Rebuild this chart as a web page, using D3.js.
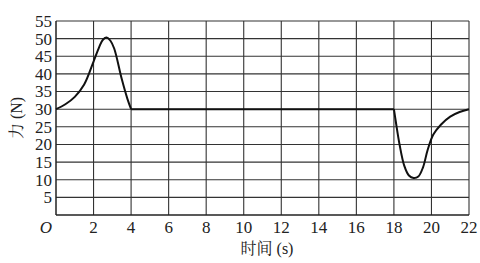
<!DOCTYPE html>
<html><head><meta charset="utf-8">
<script src="https://cdn.jsdelivr.net/npm/d3@7"></script>
<style>
body{margin:0;background:#fff;}
</style></head>
<body>
<svg id="c" width="480" height="263"></svg>
<script>
const xTicks = [2,4,6,8,10,12,14,16,18,20,22];
const yTicks = [5,10,15,20,25,30,35,40,45,50,55];
const seg1T = [0,0.5,1,1.5,2,2.3,2.5,2.7,2.9,3.1,3.5,3.8,4];
const seg1F = [30,31.4,33.5,37,43.5,47.6,49.7,50.3,49.4,47.2,38.6,33,30];
const flatT = [4,18];
const flatF = [30,30];
const seg2T = [18,18.1,18.3,18.55,18.8,19.05,19.3,19.55,19.8,20.1,20.5,21,21.5,22];
const seg2F = [30,26.5,20,14,11.2,10.5,10.9,13.5,18.5,22.8,25.6,27.9,29.2,30];
const xTitle = "时间 (s)";
const yTitle = "力 (N)";
const FONT = '"Liberation Serif","DejaVu Serif","Times New Roman","Noto Serif CJK SC","Noto Sans CJK SC",serif';

const svg = d3.select("#c");
const x = d3.scaleLinear().domain([0,22]).range([56,469]);
const y = d3.scaleLinear().domain([0,55]).range([215,21]);

svg.append("g").selectAll("line").data(xTicks).join("line")
  .attr("x1",d=>x(d)).attr("x2",d=>x(d)).attr("y1",y(0)).attr("y2",y(55))
  .attr("stroke","#333").attr("stroke-width",1.1);
svg.append("g").selectAll("line").data(yTicks).join("line")
  .attr("x1",x(0)).attr("x2",x(22)).attr("y1",d=>y(d)).attr("y2",d=>y(d))
  .attr("stroke","#333").attr("stroke-width",1.1);
svg.append("line").attr("x1",x(0)).attr("x2",x(0)).attr("y1",y(0)).attr("y2",y(55)).attr("stroke","#222").attr("stroke-width",1.5);
svg.append("line").attr("x1",x(0)).attr("x2",x(22)).attr("y1",y(0)).attr("y2",y(0)).attr("stroke","#222").attr("stroke-width",1.5);

svg.append("g").selectAll("text").data(yTicks).join("text")
  .attr("x",x(0)-4).attr("y",d=>y(d)).attr("dy","0.35em").attr("text-anchor","end")
  .attr("font-family",FONT).attr("fill","#222").attr("font-size",17).text(d=>d);
svg.append("g").selectAll("text").data(xTicks).join("text")
  .attr("x",d=>x(d)).attr("y",233).attr("text-anchor","middle")
  .attr("font-family",FONT).attr("fill","#222").attr("font-size",17).text(d=>d);
svg.append("text").attr("x",x(0)-10).attr("y",233).attr("text-anchor","middle")
  .attr("font-family",FONT).attr("fill","#222").attr("font-size",17).attr("font-style","italic").text("O");

svg.append("text").attr("x",267).attr("y",254).attr("text-anchor","middle")
  .attr("font-family",FONT).attr("fill","#222").attr("font-size",16).text(xTitle);
svg.append("text").attr("transform","translate(22,118) rotate(-90)").attr("text-anchor","middle")
  .attr("font-family",FONT).attr("fill","#222").attr("font-size",16).text(yTitle);

const line = d3.line().x(d=>x(d[0])).y(d=>y(d[1])).curve(d3.curveCatmullRom.alpha(0.5));
const flat = d3.line().x(d=>x(d[0])).y(d=>y(d[1]));
svg.append("path").datum(seg1T.map((t,i)=>[t,seg1F[i]])).attr("d",line)
  .attr("fill","none").attr("stroke","#111").attr("stroke-width",2);
svg.append("path").datum(flatT.map((t,i)=>[t,flatF[i]])).attr("d",flat)
  .attr("fill","none").attr("stroke","#111").attr("stroke-width",2);
svg.append("path").datum(seg2T.map((t,i)=>[t,seg2F[i]])).attr("d",line)
  .attr("fill","none").attr("stroke","#111").attr("stroke-width",2);
</script>
</body></html>
